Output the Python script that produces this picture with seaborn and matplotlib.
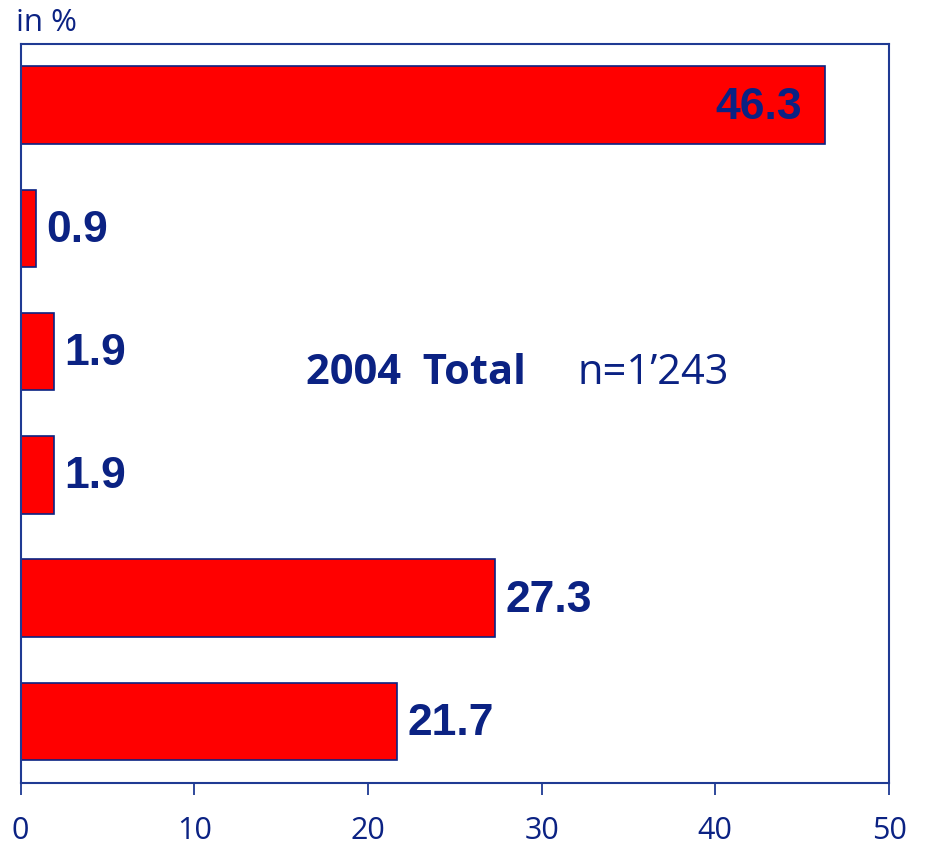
import matplotlib
matplotlib.use("Agg")
import matplotlib.pyplot as plt
import seaborn as sns
import pandas as pd

categories = ["Kategorie 1", "Kategorie 2", "Kategorie 3", "Kategorie 4", "Kategorie 5", "Kategorie 6"]
values = [46.3, 0.9, 1.9, 1.9, 27.3, 21.7]
value_labels = ["46.3", "0.9", "1.9", "1.9", "27.3", "21.7"]
x_ticks = [0, 10, 20, 30, 40, 50]
title_bold = "2004  Total"
title_n = "n=1\u2019243"
unit_label = "in %"

NAVY = "#0b2283"
SPINE = "#1f3a93"
RED = "#ff0000"

sns.set_theme(style="white")
plt.rcParams["font.family"] = ["Open Sans", "DejaVu Sans"]

df = pd.DataFrame({"cat": categories, "val": values})

fig = plt.figure(figsize=(9.25, 8.52), dpi=100)
ax = fig.add_axes([20.5 / 925, (852 - 783) / 852, (889 - 20.5) / 925, (783 - 43.5) / 852])

sns.barplot(data=df, x="val", y="cat", orient="h", color=RED, width=0.63,
            edgecolor=NAVY, linewidth=1.2, saturation=1, ax=ax)

ax.set_xlim(0, 50)
ax.set_ylim(5.5, -0.5)
ax.set_xticks(x_ticks)
ax.set_xticklabels([str(t) for t in x_ticks])
ax.set_yticks([])
ax.set_xlabel("")
ax.set_ylabel("")

for s in ax.spines.values():
    s.set_visible(True)
    s.set_color(SPINE)
    s.set_linewidth(1.5)

ax.tick_params(axis="x", direction="out", length=8.6, width=1.3, color=SPINE,
               labelsize=22, labelcolor=NAVY, pad=15, bottom=True)

for i, (v, lab) in enumerate(zip(values, value_labels)):
    if v > 40:
        ax.annotate(lab, xy=(v, i), xytext=(-16.5, -1.5), textcoords="offset points",
                    ha="right", va="center", fontsize=32, fontweight="bold",
                    color=NAVY, family=["Liberation Sans", "DejaVu Sans"])
    else:
        ax.annotate(lab, xy=(v, i), xytext=(7.5, -1.5), textcoords="offset points",
                    ha="left", va="center", fontsize=32, fontweight="bold",
                    color=NAVY, family=["Liberation Sans", "DejaVu Sans"])

ax.text(16.44, 2.266, title_bold, ha="left", va="baseline", fontsize=30,
        fontweight="bold", color=NAVY)
ax.text(32.04, 2.266, title_n, ha="left", va="baseline", fontsize=30,
        color=NAVY)

fig.text(16 / 925, 1 - 31 / 852, unit_label, ha="left", va="baseline",
         fontsize=22.5, color=NAVY)

fig.savefig("out.png", dpi=100)
